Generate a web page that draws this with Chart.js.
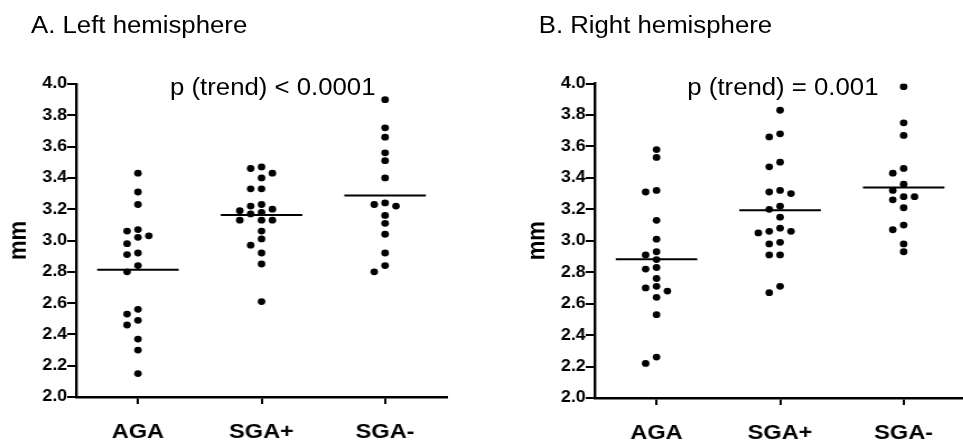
<!DOCTYPE html>
<html lang="en">
<head>
    <meta charset="UTF-8">
    <title>Left and right hemisphere</title>
    <script src="https://cdn.jsdelivr.net/npm/chart.js"></script>
    <style>
        html, body { margin: 0; padding: 0; background: #fff; overflow: hidden; }
        /* the original figure is a bit wider than tall, so the whole page is stretched */
        #page {
            position: relative; width: 870px; height: 442px;
            transform: scaleX(1.12); transform-origin: 0 0;
            font-family: "Liberation Sans", Arial, sans-serif; color: #000;
        }
        canvas { position: absolute; top: 0; }
        .label { position: absolute; font-size: 23px; line-height: 23px; white-space: nowrap; z-index: 2; }
    </style>
</head>
<body>
<div id="page">
    <canvas id="leftChart" width="403" height="442" style="left:0"></canvas>
    <canvas id="rightChart" width="403" height="442" style="left:463.3px"></canvas>

    <div class="label" style="left:27.7px; top:13.8px">A. Left hemisphere</div>
    <div class="label" style="left:481px; top:13.8px">B. Right hemisphere</div>
    <div class="label" style="left:151.8px; top:75.5px">p (trend) &lt; 0.0001</div>
    <div class="label" style="left:613.7px; top:75.5px">p (trend) = 0.001</div>
</div>

<script>
    // Categories and tick labels
    const categories = ['AGA', 'SGA+', 'SGA-'];
    const yTickValues = [2.0, 2.2, 2.4, 2.6, 2.8, 3.0, 3.2, 3.4, 3.6, 3.8, 4.0];

    // A. Left hemisphere (mm)
    const leftAGA = [3.43, 3.31, 3.23, 3.07, 3.06, 3.03, 3.02, 2.98, 2.92, 2.91, 2.84, 2.80, 2.56, 2.53, 2.49, 2.46, 2.37, 2.30, 2.15];
    const leftSGAplus = [3.47, 3.46, 3.43, 3.40, 3.33, 3.33, 3.23, 3.22, 3.20, 3.19, 3.18, 3.17, 3.13, 3.13, 3.13, 3.06, 3.01, 2.97, 2.92, 2.85, 2.61];
    const leftSGAminus = [3.90, 3.72, 3.66, 3.56, 3.51, 3.40, 3.24, 3.23, 3.22, 3.16, 3.11, 3.04, 2.92, 2.84, 2.80];

    // B. Right hemisphere (mm)
    const rightAGA = [3.58, 3.53, 3.32, 3.31, 3.13, 3.01, 2.93, 2.91, 2.88, 2.83, 2.82, 2.76, 2.71, 2.70, 2.68, 2.64, 2.53, 2.26, 2.22];
    const rightSGAplus = [3.83, 3.68, 3.66, 3.50, 3.47, 3.32, 3.31, 3.30, 3.22, 3.20, 3.15, 3.08, 3.06, 3.06, 3.05, 2.99, 2.98, 2.91, 2.91, 2.71, 2.67];
    const rightSGAminus = [3.98, 3.75, 3.67, 3.46, 3.43, 3.36, 3.32, 3.28, 3.28, 3.26, 3.21, 3.10, 3.07, 2.98, 2.93];

    // simple beeswarm: points too close in value are pushed to side columns
    function swarm(values, step, gap) {
        const order = values.map((v, i) => i).sort((a, b) => values[b] - values[a]);
        const cols = [];
        const tries = [0, -1, 1, -2, 2, -3, 3, -4, 4];
        order.forEach(i => {
            for (const c of tries) {
                const hit = order.some(j => cols[j] === c && Math.abs(values[j] - values[i]) < gap);
                if (!hit) { cols[i] = c; break; }
            }
        });
        return cols.map(c => c * step);
    }

    const mean = arr => arr.reduce((s, v) => s + v, 0) / arr.length;

    function makeChart(id, groups, top, xHeight) {
        const datasets = [];
        groups.forEach((values, k) => {
            const offs = swarm(values, 0.088, 0.042);
            datasets.push({
                type: 'scatter',
                data: values.map((v, i) => ({ x: k + offs[i], y: v })),
                pointRadius: 3.4,
                pointBackgroundColor: '#000',
                pointBorderWidth: 0
            });
            const m = mean(values);
            datasets.push({
                type: 'line',
                data: [{ x: k - 0.33, y: m }, { x: k + 0.33, y: m }],
                borderColor: '#000',
                borderWidth: 2,
                pointRadius: 0,
                fill: false
            });
        });

        return new Chart(document.getElementById(id), {
            type: 'scatter',
            data: { datasets },
            options: {
                responsive: false,
                animation: false,
                layout: { padding: { top: top, left: 0, right: 0, bottom: 0 } },
                plugins: { legend: { display: false }, tooltip: { enabled: false } },
                scales: {
                    x: {
                        type: 'linear',
                        min: -0.5,
                        max: 2.5,
                        afterBuildTicks: s => { s.ticks = categories.map((c, i) => ({ value: i })); },
                        afterFit: s => { s.height = xHeight; },
                        ticks: {
                            callback: v => categories[v],
                            color: '#000',
                            font: { size: 21, weight: 'bold' },
                            padding: 16,
                            autoSkip: false,
                            maxRotation: 0
                        },
                        grid: { drawOnChartArea: false, drawTicks: true, tickLength: 7, color: '#000', lineWidth: 2 },
                        border: { color: '#000', width: 2.5 }
                    },
                    y: {
                        min: 2,
                        max: 4,
                        afterBuildTicks: s => { s.ticks = yTickValues.map(v => ({ value: v })); },
                        afterFit: s => { s.width = 68; },
                        ticks: {
                            callback: v => v.toFixed(1),
                            color: '#000',
                            font: { size: 16, weight: 'bold' },
                            padding: 0
                        },
                        grid: { drawOnChartArea: false, drawTicks: true, tickLength: 8, color: '#000', lineWidth: 2 },
                        border: { color: '#000', width: 2.4 },
                        title: {
                            display: true,
                            text: 'mm',
                            color: '#000',
                            font: { size: 22, weight: 'bold' },
                            padding: { top: 4, bottom: 0 }
                        }
                    }
                }
            }
        });
    }

    Chart.defaults.font.family = '"Liberation Sans", Arial, sans-serif';

    makeChart('leftChart', [leftAGA, leftSGAplus, leftSGAminus], 84, 45);
    makeChart('rightChart', [rightAGA, rightSGAplus, rightSGAminus], 83.5, 44);
</script>
</body>
</html>
